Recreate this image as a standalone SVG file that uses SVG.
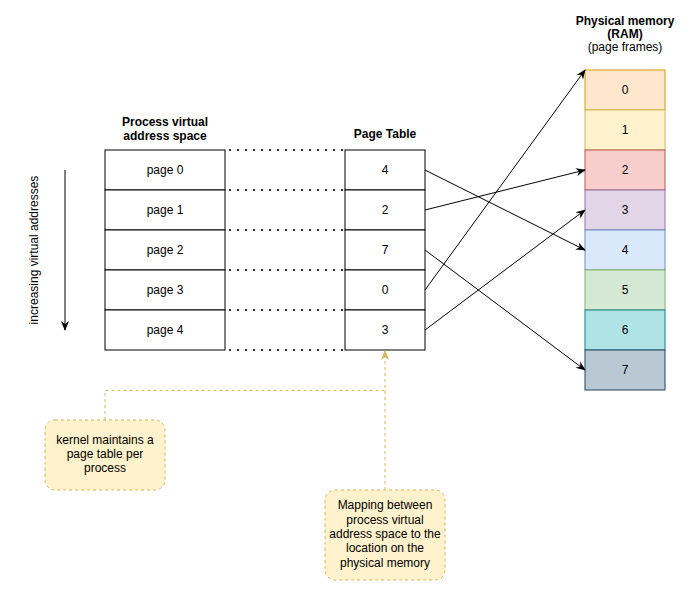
<svg xmlns="http://www.w3.org/2000/svg" width="690" height="591" viewBox="0 0 690 591">
  <style>
    text { font-family: "Liberation Sans", Arial, sans-serif; font-size: 12px; fill: #000; text-anchor: middle; }
    .b { font-weight: bold; }
    .cell { fill: #fff; stroke: #000; stroke-width: 1; }
    .dots { stroke: #333; stroke-width: 2; stroke-dasharray: 2 6; fill: none; }
    .link { stroke: #000; stroke-width: 1; fill: none; marker-end: url(#arr); }
    .note { fill: #fff2cc; stroke: #d6b656; stroke-dasharray: 3 3; }
    .noteLink { stroke: #d6b656; stroke-dasharray: 3 3; fill: none; }
  </style>
  <defs>
    <marker id="arr" viewBox="0 0 10 10" refX="9" refY="5" markerWidth="10" markerHeight="10" markerUnits="userSpaceOnUse" orient="auto">
      <path d="M0,1 L10,5 L0,9 L3,5 Z" fill="#000"/>
    </marker>
    <marker id="arrY" viewBox="0 0 10 10" refX="9" refY="5" markerWidth="10" markerHeight="10" markerUnits="userSpaceOnUse" orient="auto">
      <path d="M0,1 L10,5 L0,9 L3,5 Z" fill="#d6b656"/>
    </marker>
  </defs>

  <!-- direction hint -->
  <g id="direction">
    <text transform="translate(38,250) rotate(-90)">increasing virtual addresses</text>
    <line x1="65" y1="170" x2="65" y2="330" stroke="#000" marker-end="url(#arr)"/>
  </g>

  <!-- virtual address space -->
  <g id="virtual-space">
    <text class="b" x="165" y="126">Process virtual</text>
    <text class="b" x="165" y="140">address space</text>
    <rect class="cell" x="105" y="150" width="120" height="40"/>
    <rect class="cell" x="105" y="190" width="120" height="40"/>
    <rect class="cell" x="105" y="230" width="120" height="40"/>
    <rect class="cell" x="105" y="270" width="120" height="40"/>
    <rect class="cell" x="105" y="310" width="120" height="40"/>
    <text x="165" y="174">page 0</text>
    <text x="165" y="214">page 1</text>
    <text x="165" y="254">page 2</text>
    <text x="165" y="294">page 3</text>
    <text x="165" y="334">page 4</text>
  </g>

  <!-- page table -->
  <g id="page-table">
    <text class="b" x="385" y="138">Page Table</text>
    <rect class="cell" x="345" y="150" width="80" height="40"/>
    <rect class="cell" x="345" y="190" width="80" height="40"/>
    <rect class="cell" x="345" y="230" width="80" height="40"/>
    <rect class="cell" x="345" y="270" width="80" height="40"/>
    <rect class="cell" x="345" y="310" width="80" height="40"/>
    <text x="385" y="174">4</text>
    <text x="385" y="214">2</text>
    <text x="385" y="254">7</text>
    <text x="385" y="294">0</text>
    <text x="385" y="334">3</text>
  </g>

  <!-- physical memory frames -->
  <g id="physical-memory">
    <text class="b" x="625" y="25">Physical memory</text>
    <text class="b" x="625" y="38">(RAM)</text>
    <text x="625" y="51">(page frames)</text>
    <rect x="585" y="70" width="80" height="40" fill="#ffe6cc" stroke="#d79b00"/>
    <rect x="585" y="110" width="80" height="40" fill="#fff2cc" stroke="#d6b656"/>
    <rect x="585" y="150" width="80" height="40" fill="#f8cecc" stroke="#b85450"/>
    <rect x="585" y="190" width="80" height="40" fill="#e1d5e7" stroke="#9673a6"/>
    <rect x="585" y="230" width="80" height="40" fill="#dae8fc" stroke="#6c8ebf"/>
    <rect x="585" y="270" width="80" height="40" fill="#d5e8d4" stroke="#82b366"/>
    <rect x="585" y="310" width="80" height="40" fill="#b0e3e6" stroke="#0e8088"/>
    <rect x="585" y="350" width="80" height="40" fill="#bac8d3" stroke="#23445d"/>
    <text x="625" y="94">0</text>
    <text x="625" y="134">1</text>
    <text x="625" y="174">2</text>
    <text x="625" y="214">3</text>
    <text x="625" y="254">4</text>
    <text x="625" y="294">5</text>
    <text x="625" y="334">6</text>
    <text x="625" y="374">7</text>
  </g>

  <!-- notes -->
  <g id="note-kernel">
    <rect class="note" x="45" y="420" width="120" height="70" rx="10" ry="10"/>
    <text x="105" y="444">kernel maintains a</text>
    <text x="105" y="458">page table per</text>
    <text x="105" y="472">process</text>
  </g>
  <g id="note-mapping">
    <rect class="note" x="325" y="490" width="120" height="90" rx="10" ry="10"/>
    <text x="385" y="509">Mapping between</text>
    <text x="385" y="524">process virtual</text>
    <text x="385" y="538">address space to the</text>
    <text x="385" y="552">location on the</text>
    <text x="385" y="567">physical memory</text>
  </g>

  <!-- connectors -->
  <g id="connectors">
    <path class="dots" d="M229,150 H343 M229,190 H343 M229,230 H343 M229,270 H343 M229,310 H343 M229,350 H343"/>
    <line class="link" x1="425" y1="170" x2="585" y2="250"/>
    <line class="link" x1="425" y1="210" x2="585" y2="170"/>
    <line class="link" x1="425" y1="250" x2="585" y2="370"/>
    <line class="link" x1="425" y1="290" x2="585" y2="70"/>
    <line class="link" x1="425" y1="330" x2="585" y2="210"/>
    <path class="noteLink" d="M105,420 V390.5 H385"/>
    <path class="noteLink" d="M385,490 V351" marker-end="url(#arrY)"/>
  </g>
</svg>
